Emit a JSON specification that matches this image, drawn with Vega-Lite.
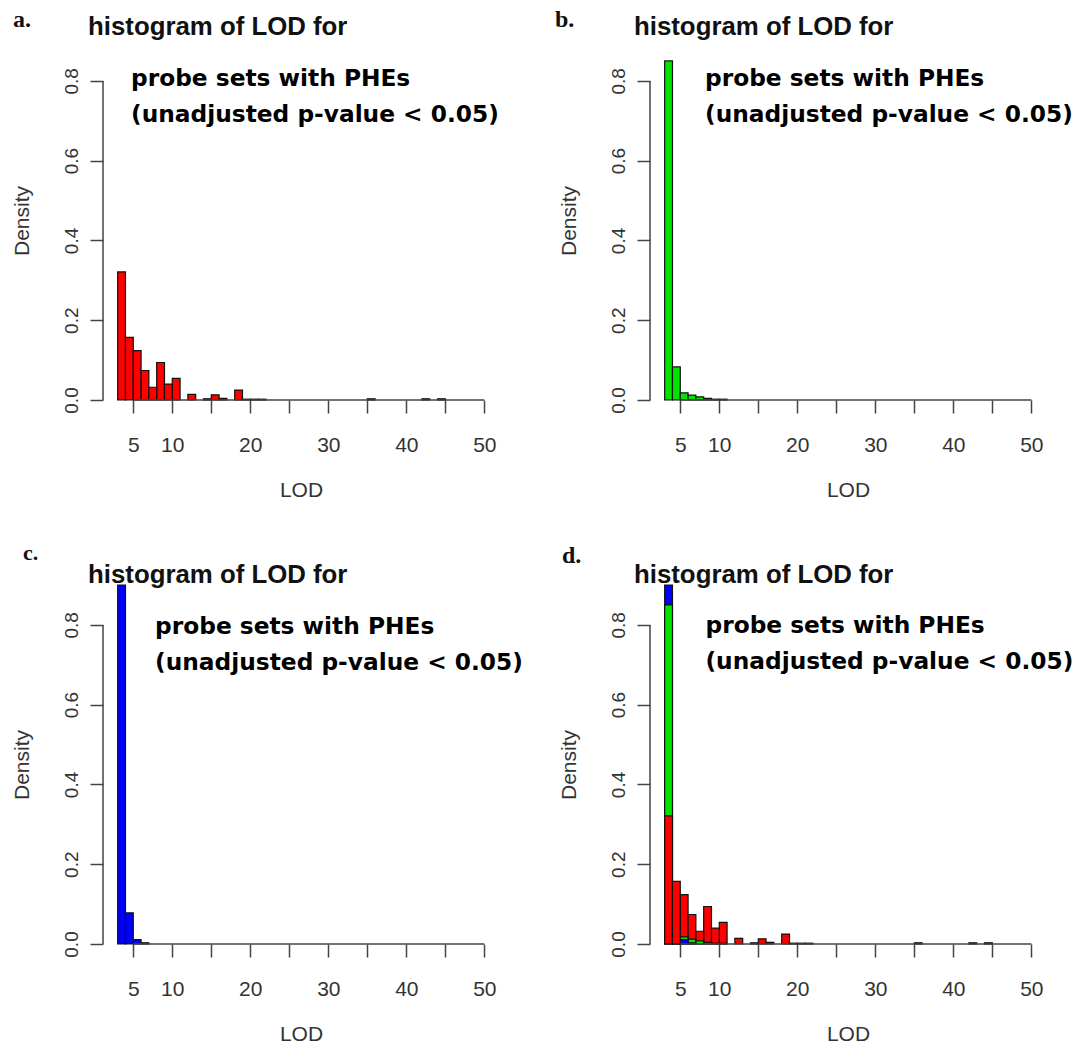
{
  "$schema": "https://vega.github.io/schema/vega-lite/v6.json",
  "background": "white",
  "padding": {"left": 11, "top": 7, "right": 5, "bottom": 0},
  "datasets": {
    "hist": [
      {"series": "a", "lo": 3, "hi": 4, "density": 0.321},
      {"series": "a", "lo": 4, "hi": 5, "density": 0.157},
      {"series": "a", "lo": 5, "hi": 6, "density": 0.124},
      {"series": "a", "lo": 6, "hi": 7, "density": 0.074},
      {"series": "a", "lo": 7, "hi": 8, "density": 0.032},
      {"series": "a", "lo": 8, "hi": 9, "density": 0.094},
      {"series": "a", "lo": 9, "hi": 10, "density": 0.040},
      {"series": "a", "lo": 10, "hi": 11, "density": 0.054},
      {"series": "a", "lo": 12, "hi": 13, "density": 0.014},
      {"series": "a", "lo": 14, "hi": 15, "density": 0.003},
      {"series": "a", "lo": 15, "hi": 16, "density": 0.013},
      {"series": "a", "lo": 16, "hi": 17, "density": 0.004},
      {"series": "a", "lo": 18, "hi": 19, "density": 0.025},
      {"series": "a", "lo": 19, "hi": 20, "density": 0.002},
      {"series": "a", "lo": 20, "hi": 21, "density": 0.002},
      {"series": "a", "lo": 21, "hi": 22, "density": 0.002},
      {"series": "a", "lo": 35, "hi": 36, "density": 0.003},
      {"series": "a", "lo": 42, "hi": 43, "density": 0.003},
      {"series": "a", "lo": 44, "hi": 45, "density": 0.003},
      {"series": "b", "lo": 3, "hi": 4, "density": 0.85},
      {"series": "b", "lo": 4, "hi": 5, "density": 0.083},
      {"series": "b", "lo": 5, "hi": 6, "density": 0.018},
      {"series": "b", "lo": 6, "hi": 7, "density": 0.012},
      {"series": "b", "lo": 7, "hi": 8, "density": 0.008},
      {"series": "b", "lo": 8, "hi": 9, "density": 0.004},
      {"series": "b", "lo": 9, "hi": 10, "density": 0.002},
      {"series": "b", "lo": 10, "hi": 11, "density": 0.002},
      {"series": "c", "lo": 3, "hi": 4, "density": 0.9},
      {"series": "c", "lo": 4, "hi": 5, "density": 0.078},
      {"series": "c", "lo": 5, "hi": 6, "density": 0.011},
      {"series": "c", "lo": 6, "hi": 7, "density": 0.003}
    ]
  },
  "columns": 2,
  "spacing": {"row": 185, "column": 151},
  "bounds": "flush",
  "concat": [
    {
      "width": 396, "height": 359,
      "layer": [
        {
          "data": {"name": "hist"},
          "transform": [{"filter": "datum.series == 'a'"}],
          "mark": {"type": "bar", "stroke": "#111", "strokeWidth": 1.2},
          "encoding": {
            "x": {"field": "lo", "type": "quantitative", "scale": {"domain": [1.12, 51.88], "nice": false, "zero": false}, "axis": {"title": "LOD", "values": [5, 10, 15, 20, 25, 30, 35, 40, 45, 50], "labelExpr": "(datum.value % 10 == 0 || datum.value == 5) ? datum.label : ''"}},
            "x2": {"field": "hi"},
            "y": {"field": "density", "type": "quantitative", "stack": null, "scale": {"domain": [0, 0.9], "nice": false}, "axis": {"title": "Density", "values": [0, 0.2, 0.4, 0.6, 0.8], "format": ".1f"}},
            "y2": {"datum": 0},
            "color": {"field": "series", "type": "nominal", "scale": {"domain": ["a", "b", "c"], "range": ["#FF0000", "#00E600", "#0000FF"]}, "legend": null},
            "order": {"field": "density", "sort": "descending"}
          }
        },
        {"data": {"values": [{}]}, "mark": {"type": "rule", "color": "#444", "strokeWidth": 1.5}, "encoding": {"x": {"datum": 1.12, "type": "quantitative"}, "y": {"datum": 0, "type": "quantitative"}, "y2": {"datum": 0.8}}},
        {"data": {"values": [{}]}, "mark": {"type": "rule", "color": "#444", "strokeWidth": 1.5}, "encoding": {"x": {"datum": 5, "type": "quantitative"}, "x2": {"datum": 50}, "y": {"datum": 0, "type": "quantitative"}}},
        {"data": {"values": [{}]}, "mark": {"type": "text", "font": "Liberation Serif", "fontWeight": "bold", "fontSize": 24, "align": "left", "baseline": "alphabetic", "color": "#111"}, "encoding": {"x": {"datum": -10.42, "type": "quantitative"}, "y": {"datum": 0.935, "type": "quantitative"}, "text": {"value": "a."}}},
        {"data": {"values": [{}]}, "mark": {"type": "text", "font": "Liberation Sans", "fontWeight": "bold", "fontSize": 25.8, "align": "left", "baseline": "alphabetic", "color": "#111"}, "encoding": {"x": {"datum": -0.8, "type": "quantitative"}, "y": {"datum": 0.914, "type": "quantitative"}, "text": {"value": "histogram of LOD for"}}},
        {"data": {"values": [{}]}, "mark": {"type": "text", "font": "DejaVu Sans", "fontWeight": "bold", "fontSize": 23.3, "align": "left", "baseline": "alphabetic", "color": "#000"}, "encoding": {"x": {"datum": 4.71, "type": "quantitative"}, "y": {"datum": 0.786, "type": "quantitative"}, "text": {"value": "probe sets with PHEs"}}},
        {"data": {"values": [{}]}, "mark": {"type": "text", "font": "DejaVu Sans", "fontWeight": "bold", "fontSize": 23.3, "align": "left", "baseline": "alphabetic", "color": "#000"}, "encoding": {"x": {"datum": 4.71, "type": "quantitative"}, "y": {"datum": 0.697, "type": "quantitative"}, "text": {"value": "(unadjusted p-value < 0.05)"}}}
      ]
    },
    {
      "width": 396, "height": 359,
      "layer": [
        {
          "data": {"name": "hist"},
          "transform": [{"filter": "datum.series == 'b'"}],
          "mark": {"type": "bar", "stroke": "#111", "strokeWidth": 1.2},
          "encoding": {
            "x": {"field": "lo", "type": "quantitative", "scale": {"domain": [1.12, 51.88], "nice": false, "zero": false}, "axis": {"title": "LOD", "values": [5, 10, 15, 20, 25, 30, 35, 40, 45, 50], "labelExpr": "(datum.value % 10 == 0 || datum.value == 5) ? datum.label : ''"}},
            "x2": {"field": "hi"},
            "y": {"field": "density", "type": "quantitative", "stack": null, "scale": {"domain": [0, 0.9], "nice": false}, "axis": {"title": "Density", "values": [0, 0.2, 0.4, 0.6, 0.8], "format": ".1f"}},
            "y2": {"datum": 0},
            "color": {"field": "series", "type": "nominal", "scale": {"domain": ["a", "b", "c"], "range": ["#FF0000", "#00E600", "#0000FF"]}, "legend": null},
            "order": {"field": "density", "sort": "descending"}
          }
        },
        {"data": {"values": [{}]}, "mark": {"type": "rule", "color": "#444", "strokeWidth": 1.5}, "encoding": {"x": {"datum": 1.12, "type": "quantitative"}, "y": {"datum": 0, "type": "quantitative"}, "y2": {"datum": 0.8}}},
        {"data": {"values": [{}]}, "mark": {"type": "rule", "color": "#444", "strokeWidth": 1.5}, "encoding": {"x": {"datum": 5, "type": "quantitative"}, "x2": {"datum": 50}, "y": {"datum": 0, "type": "quantitative"}}},
        {"data": {"values": [{}]}, "mark": {"type": "text", "font": "Liberation Serif", "fontWeight": "bold", "fontSize": 24, "align": "left", "baseline": "alphabetic", "color": "#111"}, "encoding": {"x": {"datum": -11.06, "type": "quantitative"}, "y": {"datum": 0.936, "type": "quantitative"}, "text": {"value": "b."}}},
        {"data": {"values": [{}]}, "mark": {"type": "text", "font": "Liberation Sans", "fontWeight": "bold", "fontSize": 25.8, "align": "left", "baseline": "alphabetic", "color": "#111"}, "encoding": {"x": {"datum": -0.93, "type": "quantitative"}, "y": {"datum": 0.914, "type": "quantitative"}, "text": {"value": "histogram of LOD for"}}},
        {"data": {"values": [{}]}, "mark": {"type": "text", "font": "DejaVu Sans", "fontWeight": "bold", "fontSize": 23.3, "align": "left", "baseline": "alphabetic", "color": "#000"}, "encoding": {"x": {"datum": 8.17, "type": "quantitative"}, "y": {"datum": 0.787, "type": "quantitative"}, "text": {"value": "probe sets with PHEs"}}},
        {"data": {"values": [{}]}, "mark": {"type": "text", "font": "DejaVu Sans", "fontWeight": "bold", "fontSize": 23.3, "align": "left", "baseline": "alphabetic", "color": "#000"}, "encoding": {"x": {"datum": 8.17, "type": "quantitative"}, "y": {"datum": 0.698, "type": "quantitative"}, "text": {"value": "(unadjusted p-value < 0.05)"}}}
      ]
    },
    {
      "width": 396, "height": 359,
      "layer": [
        {
          "data": {"name": "hist"},
          "transform": [{"filter": "datum.series == 'c'"}],
          "mark": {"type": "bar", "stroke": "#111", "strokeWidth": 1.2},
          "encoding": {
            "x": {"field": "lo", "type": "quantitative", "scale": {"domain": [1.12, 51.88], "nice": false, "zero": false}, "axis": {"title": "LOD", "values": [5, 10, 15, 20, 25, 30, 35, 40, 45, 50], "labelExpr": "(datum.value % 10 == 0 || datum.value == 5) ? datum.label : ''"}},
            "x2": {"field": "hi"},
            "y": {"field": "density", "type": "quantitative", "stack": null, "scale": {"domain": [0, 0.9], "nice": false}, "axis": {"title": "Density", "values": [0, 0.2, 0.4, 0.6, 0.8], "format": ".1f"}},
            "y2": {"datum": 0},
            "color": {"field": "series", "type": "nominal", "scale": {"domain": ["a", "b", "c"], "range": ["#FF0000", "#00E600", "#0000FF"]}, "legend": null},
            "order": {"field": "density", "sort": "descending"}
          }
        },
        {"data": {"values": [{}]}, "mark": {"type": "rule", "color": "#444", "strokeWidth": 1.5}, "encoding": {"x": {"datum": 1.12, "type": "quantitative"}, "y": {"datum": 0, "type": "quantitative"}, "y2": {"datum": 0.8}}},
        {"data": {"values": [{}]}, "mark": {"type": "rule", "color": "#444", "strokeWidth": 1.5}, "encoding": {"x": {"datum": 5, "type": "quantitative"}, "x2": {"datum": 50}, "y": {"datum": 0, "type": "quantitative"}}},
        {"data": {"values": [{}]}, "mark": {"type": "text", "font": "Liberation Serif", "fontWeight": "bold", "fontSize": 22, "align": "left", "baseline": "alphabetic", "color": "#111"}, "encoding": {"x": {"datum": -9.14, "type": "quantitative"}, "y": {"datum": 0.963, "type": "quantitative"}, "text": {"value": "c."}}},
        {"data": {"values": [{}]}, "mark": {"type": "text", "font": "Liberation Sans", "fontWeight": "bold", "fontSize": 25.8, "align": "left", "baseline": "alphabetic", "color": "#111"}, "encoding": {"x": {"datum": -0.8, "type": "quantitative"}, "y": {"datum": 0.906, "type": "quantitative"}, "text": {"value": "histogram of LOD for"}}},
        {"data": {"values": [{}]}, "mark": {"type": "text", "font": "DejaVu Sans", "fontWeight": "bold", "fontSize": 23.3, "align": "left", "baseline": "alphabetic", "color": "#000"}, "encoding": {"x": {"datum": 7.79, "type": "quantitative"}, "y": {"datum": 0.778, "type": "quantitative"}, "text": {"value": "probe sets with PHEs"}}},
        {"data": {"values": [{}]}, "mark": {"type": "text", "font": "DejaVu Sans", "fontWeight": "bold", "fontSize": 23.3, "align": "left", "baseline": "alphabetic", "color": "#000"}, "encoding": {"x": {"datum": 7.79, "type": "quantitative"}, "y": {"datum": 0.688, "type": "quantitative"}, "text": {"value": "(unadjusted p-value < 0.05)"}}}
      ]
    },
    {
      "width": 396, "height": 359,
      "layer": [
        {
          "data": {"name": "hist"},
          "transform": [{"filter": "datum.lo != 4"}],
          "mark": {"type": "bar", "stroke": "#111", "strokeWidth": 1.2},
          "encoding": {
            "x": {"field": "lo", "type": "quantitative", "scale": {"domain": [1.12, 51.88], "nice": false, "zero": false}, "axis": {"title": "LOD", "values": [5, 10, 15, 20, 25, 30, 35, 40, 45, 50], "labelExpr": "(datum.value % 10 == 0 || datum.value == 5) ? datum.label : ''"}},
            "x2": {"field": "hi"},
            "y": {"field": "density", "type": "quantitative", "stack": null, "scale": {"domain": [0, 0.9], "nice": false}, "axis": {"title": "Density", "values": [0, 0.2, 0.4, 0.6, 0.8], "format": ".1f"}},
            "y2": {"datum": 0},
            "color": {"field": "series", "type": "nominal", "scale": {"domain": ["a", "b", "c"], "range": ["#FF0000", "#00E600", "#0000FF"]}, "legend": null},
            "order": {"field": "density", "sort": "descending"}
          }
        },
        {
          "data": {"name": "hist"},
          "transform": [{"filter": "datum.lo == 4"}],
          "mark": {"type": "bar", "stroke": "#111", "strokeWidth": 1.2},
          "encoding": {
            "x": {"field": "lo", "type": "quantitative"},
            "x2": {"field": "hi"},
            "y": {"field": "density", "type": "quantitative", "stack": null},
            "y2": {"datum": 0},
            "color": {"field": "series", "type": "nominal", "legend": null},
            "order": {"field": "density", "sort": "ascending"}
          }
        },
        {"data": {"values": [{}]}, "mark": {"type": "rule", "color": "#444", "strokeWidth": 1.5}, "encoding": {"x": {"datum": 1.12, "type": "quantitative"}, "y": {"datum": 0, "type": "quantitative"}, "y2": {"datum": 0.8}}},
        {"data": {"values": [{}]}, "mark": {"type": "rule", "color": "#444", "strokeWidth": 1.5}, "encoding": {"x": {"datum": 5, "type": "quantitative"}, "x2": {"datum": 50}, "y": {"datum": 0, "type": "quantitative"}}},
        {"data": {"values": [{}]}, "mark": {"type": "text", "font": "Liberation Serif", "fontWeight": "bold", "fontSize": 24, "align": "left", "baseline": "alphabetic", "color": "#111"}, "encoding": {"x": {"datum": -10.16, "type": "quantitative"}, "y": {"datum": 0.955, "type": "quantitative"}, "text": {"value": "d."}}},
        {"data": {"values": [{}]}, "mark": {"type": "text", "font": "Liberation Sans", "fontWeight": "bold", "fontSize": 25.8, "align": "left", "baseline": "alphabetic", "color": "#111"}, "encoding": {"x": {"datum": -0.93, "type": "quantitative"}, "y": {"datum": 0.905, "type": "quantitative"}, "text": {"value": "histogram of LOD for"}}},
        {"data": {"values": [{}]}, "mark": {"type": "text", "font": "DejaVu Sans", "fontWeight": "bold", "fontSize": 23.3, "align": "left", "baseline": "alphabetic", "color": "#000"}, "encoding": {"x": {"datum": 8.23, "type": "quantitative"}, "y": {"datum": 0.78, "type": "quantitative"}, "text": {"value": "probe sets with PHEs"}}},
        {"data": {"values": [{}]}, "mark": {"type": "text", "font": "DejaVu Sans", "fontWeight": "bold", "fontSize": 23.3, "align": "left", "baseline": "alphabetic", "color": "#000"}, "encoding": {"x": {"datum": 8.23, "type": "quantitative"}, "y": {"datum": 0.689, "type": "quantitative"}, "text": {"value": "(unadjusted p-value < 0.05)"}}}
      ]
    }
  ],
  "config": {
    "view": {"stroke": null},
    "axis": {"domain": false, "grid": false, "tickSize": 13, "tickColor": "#444", "tickWidth": 1.5, "labelColor": "#333", "titleColor": "#333", "titleFontWeight": "normal", "labelFlush": false, "labelOverlap": false},
    "axisX": {"labelFont": "Liberation Sans", "labelFontSize": 21, "labelPadding": 21, "titleFont": "Liberation Sans", "titleFontSize": 21, "titlePadding": 24},
    "axisY": {"labelFont": "Liberation Sans", "labelFontSize": 19, "labelAngle": 270, "labelAlign": "center", "labelBaseline": "bottom", "labelPadding": 9, "titleFont": "Liberation Sans", "titleFontSize": 21, "titlePadding": 30}
  }
}
